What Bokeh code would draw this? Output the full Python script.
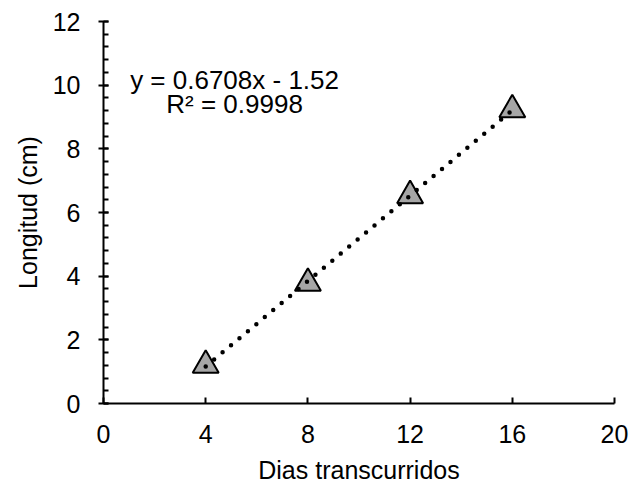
from bokeh.plotting import figure
from bokeh.models import Range1d, Label, FixedTicker
from bokeh.embed import file_html
from bokeh.resources import INLINE

# data
dias = [4, 8, 12, 16]
longitud = [1.2, 3.78, 6.53, 9.23]
slope = 0.6708
intercept = -1.52
eq_text = "y = 0.6708x - 1.52"
r2_text = "R² = 0.9998"
x_ticks = [0, 4, 8, 12, 16, 20]
y_ticks = [0, 2, 4, 6, 8, 10, 12]

FONT = "Liberation Sans"

p = figure(frame_width=511, frame_height=382, output_backend="svg", toolbar_location=None,
           x_range=Range1d(0, 20), y_range=Range1d(0, 12),
           min_border_left=103, min_border_right=24, min_border_top=21, min_border_bottom=76)
p.outline_line_color = None
p.grid.grid_line_color = None
p.background_fill_color = "white"
p.border_fill_color = "white"

# points
p.scatter(dias, longitud, marker="triangle", size=26, fill_color="#a6a6a6",
          line_color="black", line_width=2)

# trendline (drawn over the markers)
tx = [dias[0], dias[-1]]
ty = [slope * v + intercept for v in tx]
p.line(tx, ty, line_color="black", line_width=4.5, line_dash="0 11", line_cap="round")

p.add_layout(Label(x=5.13, y=10.17, text=eq_text, text_align="center", text_baseline="middle",
                   text_font=FONT, text_font_size="26px", text_color="black"))
p.add_layout(Label(x=5.13, y=9.41, text=r2_text, text_align="center", text_baseline="middle",
                   text_font=FONT, text_font_size="26px", text_color="black"))

xa = p.xaxis[0]
xa.ticker = FixedTicker(ticks=x_ticks)
xa.axis_label = "Dias transcurridos"
xa.major_tick_in = 6
xa.major_tick_out = 0
xa.major_label_standoff = 21
xa.axis_label_standoff = 10

ya = p.yaxis[0]
ya.ticker = FixedTicker(ticks=y_ticks, minor_ticks=[v / 10 for v in range(0, 121, 4)])
ya.axis_label = "Longitud (cm)"
ya.major_tick_in = 5
ya.major_tick_out = 5
ya.minor_tick_in = 5
ya.minor_tick_out = 0
ya.major_label_standoff = 18
ya.axis_label_standoff = 8

for ax in (xa, ya):
    ax.axis_line_color = "black"
    ax.axis_line_width = 2
    ax.major_tick_line_color = "black"
    ax.major_tick_line_width = 2
    ax.minor_tick_line_color = "black" if ax is ya else None
    ax.minor_tick_line_width = 2
    ax.major_label_text_font = FONT
    ax.major_label_text_font_size = "25px"
    ax.major_label_text_color = "black"
    ax.axis_label_text_font = FONT
    ax.axis_label_text_font_size = "25px"
    ax.axis_label_text_font_style = "normal"
    ax.axis_label_text_color = "black"

open("out.html", "w").write(file_html(p, INLINE))
